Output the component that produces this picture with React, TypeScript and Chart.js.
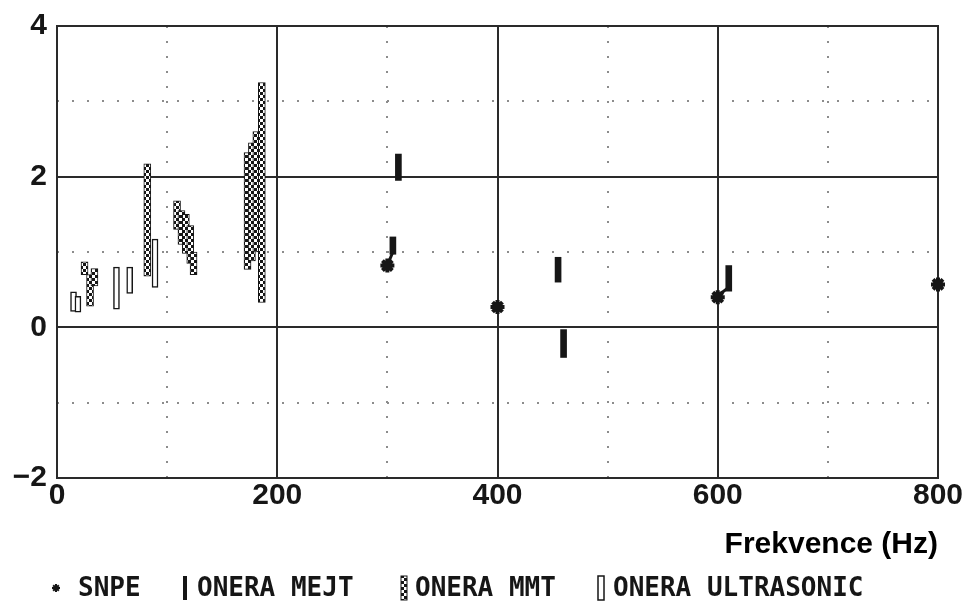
import React, { useEffect, useRef } from 'react';
import { Chart, registerables } from 'chart.js';

Chart.register(...registerables);

// ---- data ----
const xTicks = [0, 200, 400, 600, 800];
const yTicks = [-2, 0, 2, 4];
const solidX = [200, 400, 600];
const dottedX = [100, 300, 500, 700];
const solidY = [0, 2];
const dottedY = [-1, 1, 3];

const snpeFreq = [300, 400, 600, 800];
const snpeValue = [0.82, 0.27, 0.4, 0.57];

const mejtFreq = [305, 310, 455, 460, 610];
const mejtLow = [0.97, 1.95, 0.6, -0.4, 0.48];
const mejtHigh = [1.2, 2.3, 0.93, -0.03, 0.82];

const hookFreq = [
  [301, 305],
  [601, 609],
];
const hookValue = [
  [0.86, 1.0],
  [0.43, 0.52],
];

const mmtFreq = [25, 30, 34, 82, 109, 113, 117, 121, 124, 173, 177, 181, 186];
const mmtLow = [0.7, 0.28, 0.55, 0.68, 1.3, 1.1, 0.98, 0.85, 0.7, 0.77, 0.88, 1.0, 0.33];
const mmtHigh = [0.87, 0.7, 0.78, 2.17, 1.68, 1.55, 1.5, 1.35, 1.0, 2.32, 2.45, 2.6, 3.25];

const ultraFreq = [15, 19, 54, 66, 89];
const ultraLow = [0.21, 0.2, 0.24, 0.45, 0.53];
const ultraHigh = [0.47, 0.41, 0.8, 0.8, 1.17];

const legendLabels = ['SNPE', 'ONERA MEJT', 'ONERA MMT', 'ONERA ULTRASONIC'];

const INK = '#161616';

function makePattern(): CanvasPattern | string {
  const c = document.createElement('canvas');
  c.width = 6;
  c.height = 6;
  const g = c.getContext('2d');
  if (!g) return INK;
  g.fillStyle = '#ffffff';
  g.fillRect(0, 0, 6, 6);
  g.fillStyle = INK;
  g.fillRect(0, 0, 3, 3);
  g.fillRect(3, 3, 3, 3);
  const p = g.createPattern(c, 'repeat');
  return p || INK;
}

export default function App() {
  const ref = useRef<HTMLCanvasElement | null>(null);

  useEffect(() => {
    if (!ref.current) return;
    const pattern = makePattern();

    const gridPlugin = {
      id: 'customGrid',
      beforeDatasetsDraw(chart: any) {
        const { ctx, chartArea } = chart;
        const xs = chart.scales.x;
        const ys = chart.scales.y;
        ctx.save();
        ctx.strokeStyle = '#8c8c8c';
        ctx.lineWidth = 2;
        ctx.setLineDash([2, 13]);
        dottedX.forEach((v) => {
          const px = Math.round(xs.getPixelForValue(v));
          ctx.beginPath();
          ctx.moveTo(px, chartArea.top);
          ctx.lineTo(px, chartArea.bottom);
          ctx.stroke();
        });
        dottedY.forEach((v) => {
          const py = Math.round(ys.getPixelForValue(v));
          ctx.beginPath();
          ctx.moveTo(chartArea.left, py);
          ctx.lineTo(chartArea.right, py);
          ctx.stroke();
        });
        ctx.setLineDash([]);
        ctx.strokeStyle = '#2a2a2a';
        ctx.lineWidth = 2;
        solidX.forEach((v) => {
          const px = Math.round(xs.getPixelForValue(v));
          ctx.beginPath();
          ctx.moveTo(px, chartArea.top);
          ctx.lineTo(px, chartArea.bottom);
          ctx.stroke();
        });
        solidY.forEach((v) => {
          const py = Math.round(ys.getPixelForValue(v));
          ctx.beginPath();
          ctx.moveTo(chartArea.left, py);
          ctx.lineTo(chartArea.right, py);
          ctx.stroke();
        });
        ctx.strokeRect(chartArea.left, chartArea.top, chartArea.right - chartArea.left, chartArea.bottom - chartArea.top);
        ctx.restore();
      },
    };

    const legendPlugin = {
      id: 'customLegend',
      afterDraw(chart: any) {
        const { ctx } = chart;
        const y = 580;
        const starts = [48, 177, 396, 593];
        ctx.save();
        ctx.font = 'bold 26px "DejaVu Sans Mono"';
        ctx.textBaseline = 'middle';
        ctx.textAlign = 'left';
        ctx.fillStyle = INK;
        ctx.strokeStyle = INK;
        legendLabels.forEach((label, i) => {
          const x = starts[i];
          if (i === 0) {
            ctx.lineWidth = 2;
            const r = 4;
            for (let k = 0; k < 4; k++) {
              const a = (Math.PI / 4) * k;
              ctx.beginPath();
              ctx.moveTo(x - r * Math.cos(a), y - r * Math.sin(a));
              ctx.lineTo(x + r * Math.cos(a), y + r * Math.sin(a));
              ctx.stroke();
            }
            ctx.fillText(label, x + 22, y + 1);
          } else if (i === 1) {
            ctx.fillRect(x - 2, y - 12, 4, 24);
            ctx.fillText(label, x + 12, y + 1);
          } else if (i === 2) {
            ctx.fillStyle = pattern as any;
            ctx.fillRect(x - 3, y - 12, 6, 24);
            ctx.fillStyle = INK;
            ctx.lineWidth = 1;
            ctx.strokeRect(x - 3, y - 12, 6, 24);
            ctx.fillText(label, x + 11, y + 1);
          } else {
            ctx.fillStyle = '#ffffff';
            ctx.fillRect(x - 3, y - 12, 6, 24);
            ctx.fillStyle = INK;
            ctx.lineWidth = 1.5;
            ctx.strokeRect(x - 3, y - 12, 6, 24);
            ctx.fillText(label, x + 12, y + 1);
          }
        });
        ctx.restore();
      },
    };

    const tickFont = { family: '"Liberation Sans", Arial, sans-serif', size: 30, weight: 'bold' as const };

    const chart = new Chart(ref.current, {
      type: 'bar',
      data: {
        datasets: [
          {
            type: 'bar',
            label: 'ONERA ULTRASONIC',
            data: ultraFreq.map((f, i) => ({ x: f, y: [ultraLow[i], ultraHigh[i]] })) as any,
            backgroundColor: '#ffffff',
            borderColor: INK,
            borderWidth: 1.5,
            borderSkipped: false,
            barThickness: 6,
            grouped: false,
          },
          {
            type: 'bar',
            label: 'ONERA MMT',
            data: mmtFreq.map((f, i) => ({ x: f, y: [mmtLow[i], mmtHigh[i]] })) as any,
            backgroundColor: pattern as any,
            borderColor: INK,
            borderWidth: 1,
            borderSkipped: false,
            barThickness: 7,
            grouped: false,
          },
          {
            type: 'bar',
            label: 'ONERA MEJT',
            data: mejtFreq.map((f, i) => ({ x: f, y: [mejtLow[i], mejtHigh[i]] })) as any,
            backgroundColor: INK,
            borderColor: INK,
            borderWidth: 0,
            borderSkipped: false,
            barThickness: 6,
            grouped: false,
          },
          ...hookFreq.map((fs, j) => ({
            type: 'line' as const,
            label: 'hook' + j,
            data: fs.map((f, k) => ({ x: f, y: hookValue[j][k] })),
            borderColor: INK,
            borderWidth: 3,
            pointRadius: 0,
            fill: false,
          })),
          {
            type: 'scatter',
            label: 'SNPE',
            data: snpeFreq.map((f, i) => ({ x: f, y: snpeValue[i] })),
            pointStyle: 'star',
            radius: 7,
            borderWidth: 4,
            borderColor: INK,
            backgroundColor: INK,
            clip: false,
          },
        ] as any,
      },
      options: {
        animation: false,
        responsive: false,
        layout: { padding: { top: 18, right: 27, left: 0, bottom: 0 } },
        plugins: { legend: { display: false }, tooltip: { enabled: false } },
        scales: {
          x: {
            type: 'linear',
            min: 0,
            max: 800,
            offset: false,
            grid: { display: false, offset: false, drawTicks: false },
            border: { display: false },
            afterBuildTicks: (s: any) => {
              s.ticks = xTicks.map((v) => ({ value: v }));
            },
            ticks: {
              autoSkip: false,
              maxRotation: 0,
              padding: 0,
              color: INK,
              font: tickFont,
            },
            title: {
              display: true,
              text: 'Frekvence (Hz)',
              align: 'end',
              color: '#000',
              font: { family: '"Liberation Sans", Arial, sans-serif', size: 30, weight: 'bold' },
              padding: { top: 0, bottom: 39 },
            },
            afterFit: (s: any) => {
              s.height = 124;
            },
          },
          y: {
            type: 'linear',
            min: -2,
            max: 4,
            grid: { display: false, drawTicks: false },
            border: { display: false },
            afterBuildTicks: (s: any) => {
              s.ticks = yTicks.map((v) => ({ value: v }));
            },
            ticks: {
              padding: 10,
              color: INK,
              font: tickFont,
              callback: (v: any) => (Number(v) < 0 ? '\u2212' + Math.abs(Number(v)) : String(v)),
            },
            afterFit: (s: any) => {
              s.width = 49;
              s.paddingTop = 0;
              s.paddingBottom = 0;
            },
          },
        },
      } as any,
      plugins: [gridPlugin, legendPlugin],
    });

    return () => chart.destroy();
  }, []);

  return (
    <div style={{ width: 957, height: 594 }}>
      <canvas ref={ref} width={957} height={594} style={{ display: 'block' }} />
    </div>
  );
}
